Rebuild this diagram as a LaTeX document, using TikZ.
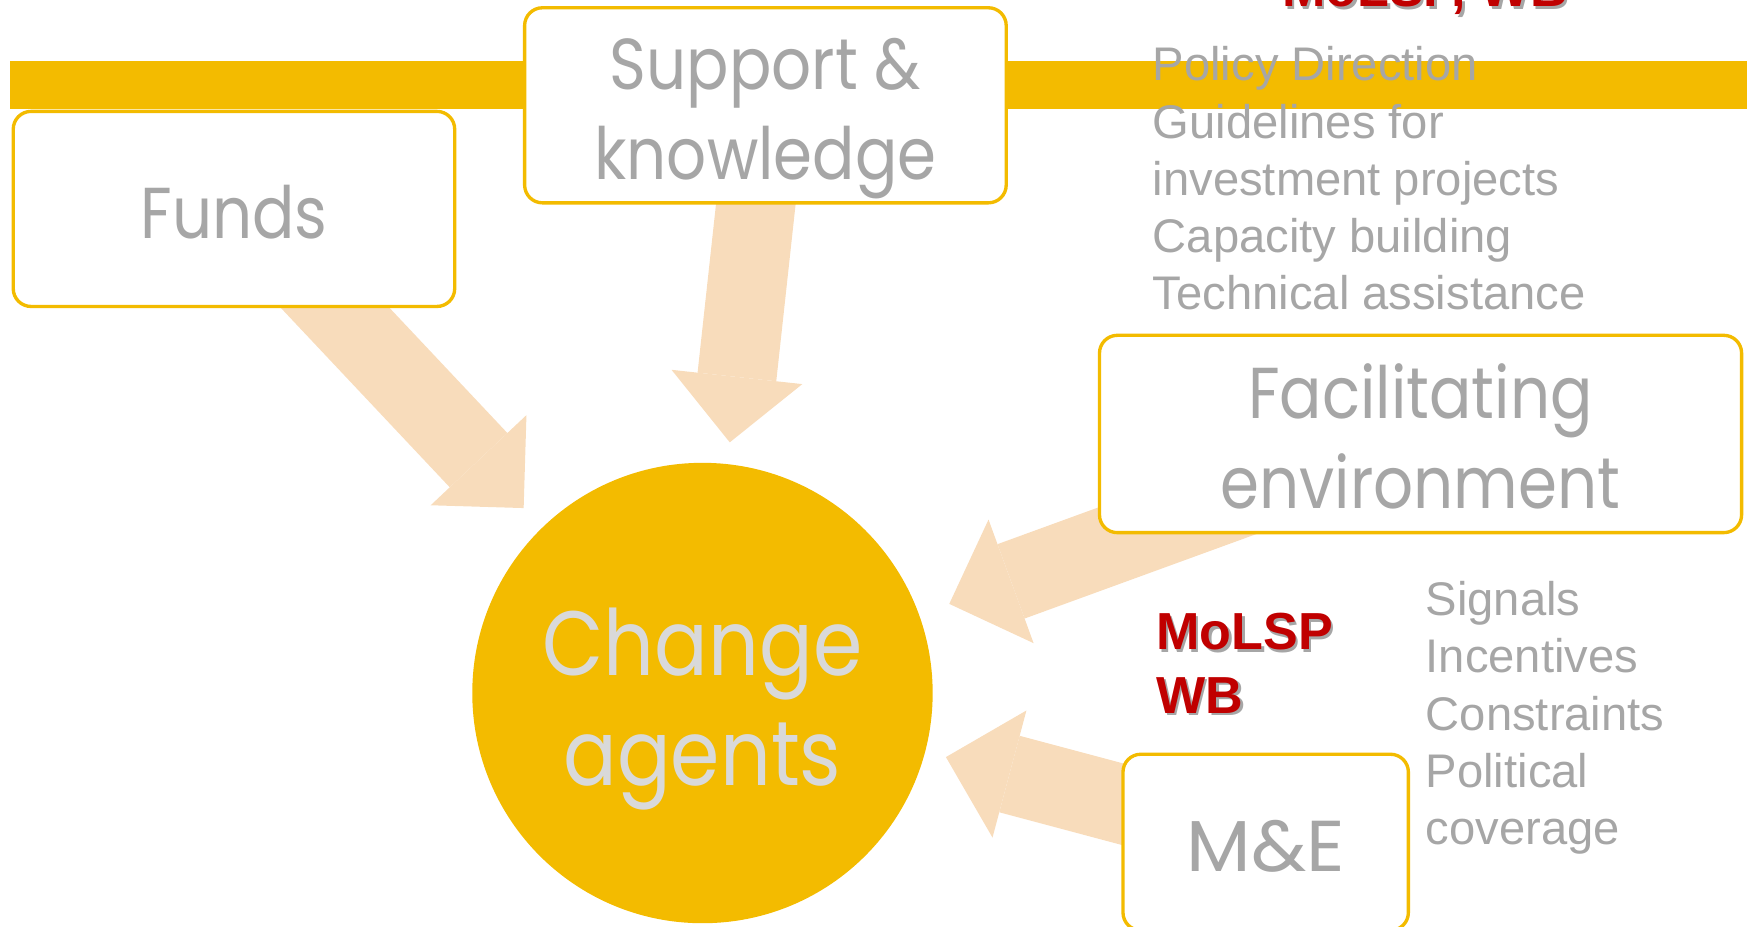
\documentclass[tikz,border=0pt]{standalone}
\usepackage{fontspec}
\setmainfont{Liberation Sans}
\newfontfamily\gothic[FakeStretch=0.87]{Poppins}
\newfontfamily\gothicwide[FakeStretch=1.04]{Poppins}
\usetikzlibrary{arrows.meta}
\definecolor{gold}{RGB}{243,187,0}
\definecolor{peach}{RGB}{248,220,187}
\definecolor{txtgray}{RGB}{166,166,166}
\definecolor{pale}{RGB}{217,217,217}
\definecolor{molred}{RGB}{192,0,0}
\newcommand{\shadowed}[1]{\rlap{\kern0.7pt\raisebox{-0.7pt}{\textcolor{black!35}{#1}}}#1}
\begin{document}
\begin{tikzpicture}[x=0.01cm, y=-0.01cm,
    box/.style={draw=gold, line width=0.03cm, fill=white, rounded corners=0.16cm, inner sep=0pt,
      text=txtgray, align=center, text height=0.53cm, text depth=0cm,
      font=\gothic\fontsize{18.4}{22.96}\selectfont},
    twolines/.style={text height=1.337cm},
    flow/.style={peach, line width=0.71cm, -{Triangle[width=1.18cm, length=0.59cm, line width=0pt]}},
    note/.style={anchor=base west, inner sep=0pt, align=left, text=txtgray, font=\fontsize{12.04}{14.6}\selectfont},
    agency/.style={anchor=base west, inner sep=0pt, align=left, text=molred, font=\bfseries\fontsize{13.3}{16.2}\selectfont}]
  \useasboundingbox (0,0) rectangle (1568,832);
  \clip (0,0) rectangle (1568,832);
  \fill[gold] (9,55) rectangle (1575,97.5);
  \coordinate (FundsOut) at (237,208.5);
  \coordinate (FundsIn) at (470,456);
  \coordinate (SupportOut) at (682,150);
  \coordinate (SupportIn) at (655,397);
  \coordinate (FacilOut) at (1151,433);
  \coordinate (FacilIn) at (852,542);
  \coordinate (MEOut) at (1147,759);
  \coordinate (MEIn) at (849,679.5);
  \draw[flow] (FundsOut) -- (FundsIn);
  \draw[flow] (SupportOut) -- (SupportIn);
  \draw[flow] (FacilOut) -- (FacilIn);
  \draw[flow] (MEOut) -- (MEIn);
  \node[box, minimum width=3.96cm, minimum height=1.75cm] (Funds) at (210,187.5) {Funds};
  \node[box, twolines, minimum width=4.32cm, minimum height=1.75cm] (Support) at (687,94.5) {Support \&\\knowledge};
  \node[box, twolines, minimum width=5.76cm, minimum height=1.77cm] (Facilitating) at (1275,389.5) {Facilitating\\environment};
  \node[box, minimum width=2.56cm, minimum height=1.58cm, font=\gothicwide\fontsize{18.4}{22.96}\selectfont] (ME) at (1136,756) {M\&E};
  \node[circle, fill=gold, inner sep=0pt, minimum size=4.13cm, text=pale, align=center,
    text height=1.652cm, text depth=0cm, font=\gothic\fontsize{23.3}{28.05}\selectfont] (ChangeAgents) at (630.5,622) {Change\\agents};
  \node[note] (Policy) at (1034,278) {Policy Direction\\Guidelines for\\investment projects\\Capacity building\\Technical assistance};
  \node[note] (Signals) at (1279,758) {Signals\\Incentives\\Constraints\\Political\\coverage};
  \node[agency] (TopAgency) at (1150,6) {\shadowed{MoLSP, WB}};
  \node[agency] (Agency) at (1037,640) {\shadowed{MoLSP}\\\shadowed{WB}};
\end{tikzpicture}
\end{document}
